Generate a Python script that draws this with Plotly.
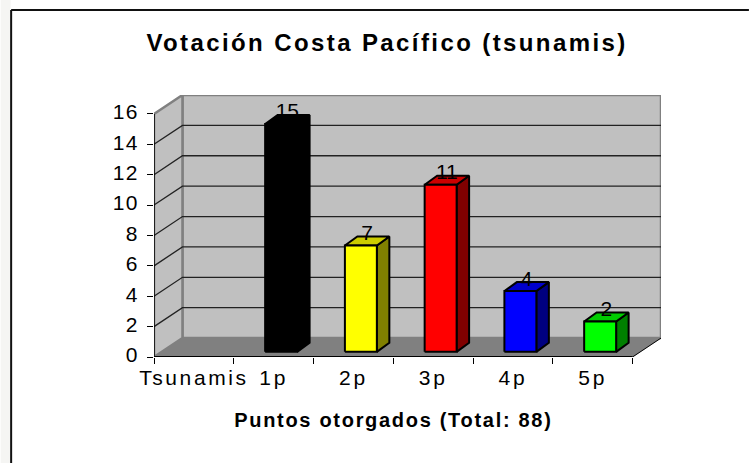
import plotly.graph_objects as go

categories = ["Tsunamis", "1p", "2p", "3p", "4p", "5p"]
values = [0, 15, 7, 11, 4, 2]
bar_colors = ["#000000", "#000000", "#FFFF00", "#FF0000", "#0000FF", "#00FF00"]
side_colors = ["#000000", "#000000", "#808000", "#800000", "#000080", "#008000"]
top_colors = ["#000000", "#000000", "#CCCC00", "#CC0000", "#0000CC", "#00CC00"]
y_ticks = list(range(0, 17, 2))
title_text = "Votación Costa Pacífico (tsunamis)"
x_title = "Puntos otorgados (Total: 88)"

W, H = 749, 463
L, R, T, B = 153.5, 88, 95, 106
n = len(categories)
ymax = y_ticks[-1]
px_x = (W - L - R - 28.5) / n       # px per category
px_y = 15.25                        # px per unit
WALL_DX, WALL_DY = 28.5 / px_x, 19 / px_y
BAR_W = 32 / px_x
BAR_DX, BAR_DY = 12.5 / px_x, 9 / px_y
BAR_BASE = 5.2 / px_y
BAR_SHIFT = 7.5 / px_x
FONT = "Liberation Sans, Arial, sans-serif"

fig = go.Figure()


def poly(xs, ys, fill=None, line="#000000", width=2):
    fig.add_trace(go.Scatter(
        x=xs, y=ys, mode="lines", fill="toself" if fill else "none", fillcolor=fill,
        line=dict(color=line, width=width), showlegend=False, hoverinfo="skip",
        cliponaxis=False))


xe = n
xb = n + WALL_DX
yb = ymax + WALL_DY
# back wall, side wall, floor
poly([WALL_DX, xb, xb, WALL_DX, WALL_DX], [WALL_DY, WALL_DY, yb, yb, WALL_DY], "#C0C0C0", "#808080", 2.5)
poly([0, WALL_DX, WALL_DX, 0, 0], [0, WALL_DY, yb, ymax, 0], "#C0C0C0", "#808080", 2.5)
poly([0, xe, xb, WALL_DX, 0], [0, 0, WALL_DY, WALL_DY, 0], "#808080", "#808080", 0.5)
# gridlines
for v in y_ticks[1:-1]:
    poly([0, WALL_DX, xb], [v, v + WALL_DY, v + WALL_DY], None, "#222222", 1.3)
# axis lines
poly([0, 0], [0, ymax], None, "#000000", 1.5)
poly([0, xe], [0, 0], None, "#000000", 2)
poly([xe, xb], [0, WALL_DY], None, "#000000", 1)

# bars
for i, v in enumerate(values):
    if v == 0:
        continue
    x0 = i + 0.5 + BAR_SHIFT - BAR_W / 2
    x1 = x0 + BAR_W
    y0 = BAR_BASE
    y1 = BAR_BASE + v
    poly([x1, x1 + BAR_DX, x1 + BAR_DX, x1, x1], [y0, y0 + BAR_DY, y1 + BAR_DY, y1, y0], side_colors[i])
    poly([x0, x1, x1 + BAR_DX, x0 + BAR_DX, x0], [y1, y1, y1 + BAR_DY, y1 + BAR_DY, y1], top_colors[i])
    poly([x0, x1, x1, x0, x0], [y0, y0, y1, y1, y0], bar_colors[i])

# value labels
lab = [(i, v) for i, v in enumerate(values) if v > 0]
fig.add_trace(go.Scatter(
    x=[i + 0.5 + BAR_SHIFT + BAR_DX / 2 for i, v in lab],
    y=[v + 1.05 for i, v in lab],
    text=[str(v) for i, v in lab],
    mode="text", textposition="middle center",
    textfont=dict(family=FONT, size=21, color="#000000"),
    showlegend=False, hoverinfo="skip", cliponaxis=False))

fig.update_layout(
    width=W, height=H, autosize=False,
    margin=dict(l=L, r=R, t=T, b=B, pad=0),
    paper_bgcolor="#FFFFFF", plot_bgcolor="rgba(0,0,0,0)",
    font=dict(family=FONT, size=20, color="#000000"),
    title=dict(text=f"<b>{title_text}</b>", x=387 / W, xanchor="center", y=1 - 43 / H, yanchor="middle",
               xref="container", yref="container", font=dict(family=FONT, size=24, color="#000000")),
    xaxis=dict(range=[0, xb], tickmode="array",
               tickvals=[i + 0.5 for i in range(n)], ticktext=categories,
               ticks="", showgrid=False, zeroline=False, showline=False,
               minor=dict(tickmode="array", tickvals=list(range(n + 1)), ticks="outside",
                          ticklen=6, tickwidth=1, tickcolor="#000000", showgrid=False),
               tickfont=dict(family=FONT, size=21), ticklabelstandoff=6, fixedrange=True),
    yaxis=dict(range=[0, yb], tickmode="array", tickvals=y_ticks,
               ticks="outside", ticklen=6, tickwidth=1, tickcolor="#000000",
               showgrid=False, zeroline=False, showline=False,
               tickfont=dict(family=FONT, size=21), ticklabelstandoff=4, fixedrange=True),
    annotations=[dict(text=f"<b>{x_title}</b>", x=3, xref="x", y=(H - B - 420) / (H - T - B), yref="paper",
                      yanchor="middle", xanchor="center", showarrow=False,
                      font=dict(family=FONT, size=20, color="#000000"))],
    shapes=[
        dict(type="rect", xref="paper", yref="paper", layer="below", line_width=0, fillcolor="#F5F5F3",
             x0=-L / (W - L - R), x1=(10 - L) / (W - L - R), y0=-2, y1=2),
        dict(type="line", xref="paper", yref="paper", line=dict(color="#111111", width=2),
             x0=(10.5 - L) / (W - L - R), x1=(10.5 - L) / (W - L - R), y0=-1, y1=(H - B - 10) / (H - T - B)),
        dict(type="line", xref="paper", yref="paper", line=dict(color="#111111", width=2),
             x0=(10.5 - L) / (W - L - R), x1=(W - L) / (W - L - R), y0=(H - B - 10) / (H - T - B), y1=(H - B - 10) / (H - T - B)),
    ],
)

post = """
document.body.style.margin='0';
document.querySelectorAll('.gtitle').forEach(t=>t.style.letterSpacing='2.4px');
document.querySelectorAll('.annotation-text').forEach(t=>t.style.letterSpacing='1.7px');
document.querySelectorAll('.xtick text').forEach(t=>t.style.letterSpacing='2.6px');
document.querySelectorAll('.ytick text').forEach(t=>{t.style.letterSpacing='1.4px';t.setAttribute('dy','-2');});
document.querySelectorAll('.js-line').forEach(t=>t.style.strokeLinejoin='miter');
"""
fig.write_html("out.html", post_script=post, config=dict(displayModeBar=False, staticPlot=True))
